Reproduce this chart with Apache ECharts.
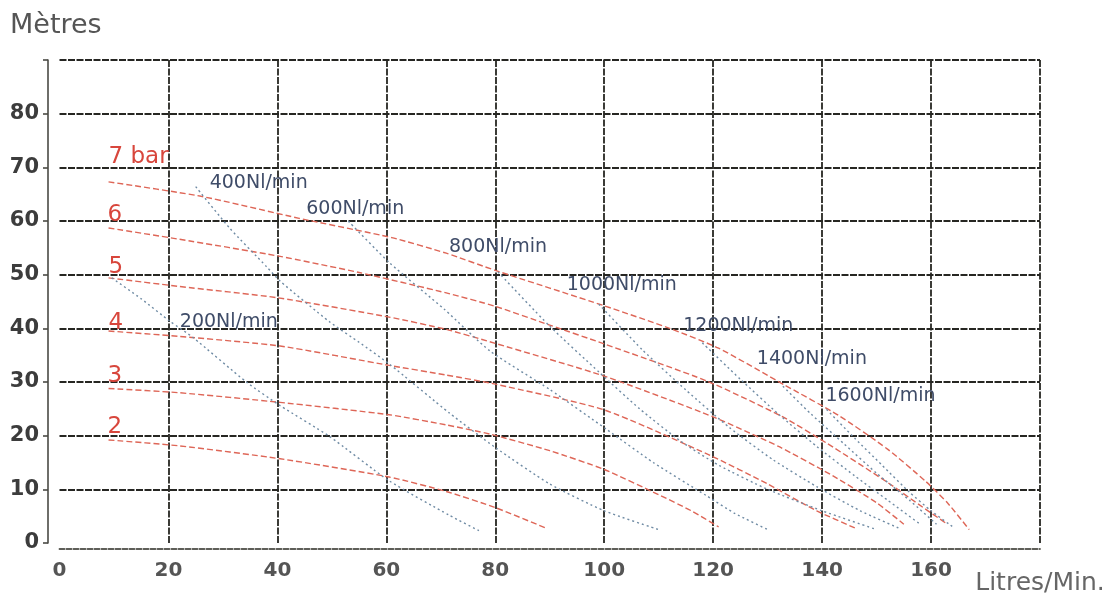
<!DOCTYPE html>
<html>
<head>
<meta charset="utf-8">
<script src="https://cdn.jsdelivr.net/npm/echarts@6/dist/echarts.min.js"></script>
<style>
html,body{margin:0;padding:0;background:#ffffff;}
#chart{width:1118px;height:596px;}
</style>
</head>
<body>
<div id="chart"></div>
<script>
// ---- tick labels ----
const xTickLabels = [0, 20, 40, 60, 80, 100, 120, 140, 160];
const yTickLabels = [0, 10, 20, 30, 40, 50, 60, 70, 80];
const xAxisTitle = 'Litres/Min.';
const yAxisTitle = 'Mètres';

// ---- pressure curves (red), [Litres/min, Metres] ----
const pressureNames = ['7 bar', '6', '5', '4', '3', '2'];
const bar7 = [[9,67.3],[26,64.6],[44,60.5],[61,56.9],[71,54],[80,50.8],[100,44.2],[112,40],[121,36.3],[133,29.5],[143,23.8],[152,17.5],[159,11.5],[163,7.5],[167,2.5]];
const bar6 = [[9,58.7],[22,56.6],[40,53.5],[55,50.4],[71,46.6],[80,44.1],[90,40.6],[100,37.1],[118.8,30.2],[132.8,23.5],[141,18.5],[152,11.3],[158,7],[163,3.5]];
const bar5 = [[9,49.4],[22,47.8],[40,45.7],[60.5,42.1],[71,39.8],[80,37.2],[100,31.1],[120,23.5],[132,18],[142,12.5],[150,7.5],[155,3.5]];
const bar4 = [[9,39.5],[22,38.5],[40.5,36.7],[60.5,33.1],[71,31.3],[80,29.6],[100,24.8],[119.5,16.3],[130,11],[139,6],[146,2.8]];
const bar3 = [[9,28.8],[22,28],[40.5,26.2],[60.5,23.9],[71,22],[79,20.3],[90,17.2],[100,13.7],[110,9],[116,6],[121,3]];
const bar2 = [[9,19.2],[22,18.1],[40.5,15.7],[60.5,12.3],[71,9.6],[80,6.6],[89.5,2.7]];

// ---- air consumption curves (blue) ----
const airNames = ['200Nl/min','400Nl/min','600Nl/min','800Nl/min','1000Nl/min','1200Nl/min','1400Nl/min','1600Nl/min'];
const air200 = [[9.6,49.4],[15,45.5],[20.3,41.3],[24.5,38.3],[34.3,30],[40.5,25.6],[49.5,19.9],[60.5,11.6],[71.5,5.2],[77,2.3]];
const air400 = [[25,66.4],[31.3,58.6],[38,51.5],[40.5,48.8],[49.6,41.2],[55,37.4],[60.6,33.3],[71.6,24.2],[80,17.8],[90,11],[100,6],[110,2.5]];
const air600 = [[53,60],[60.6,52.2],[70.7,43.5],[79,35.8],[90,28.6],[100.4,21.2],[109,15],[118.8,8.8],[124,5.5],[130,2.5]];
const air800 = [[80.5,50.5],[90,40.4],[99.2,31.7],[106.5,25],[114,19],[121,14.5],[130,10],[140,6],[150,2.5]];
const air1000 = [[99,44.5],[107,36],[115,28.5],[123,21.5],[131,15.5],[139,10.5],[147,6],[154,2.8]];
const air1200 = [[118,37.3],[125,30.5],[132,24],[139,18],[146,12.5],[152,8],[158,3.5]];
const air1400 = [[132.8,29.2],[138,24],[144,18.5],[150,13],[156,8],[161,3.5]];
const air1600 = [[140.8,24.9],[146,19.5],[151,14.5],[156,9.5],[160,6],[164,3]];

const pressureData = [bar7, bar6, bar5, bar4, bar3, bar2];
const airData = [air200, air400, air600, air800, air1000, air1200, air1400, air1600];

// ---- styles (label placement relative to each curve's first point) ----
const pressureLabelOffsets = [[0,-11],[-1,1],[0,3],[0,6],[-1,1],[-1,1]];
const airLabelOffsets = [[117,59],[63,11],[7,3],[0,-10],[23,-5],[36,-2],[29,-13],[54,1]];

const FONT = '"DejaVu Sans", Verdana, sans-serif';
const gridLine = {color:'#262622', width:2, type:[7,1.5]};

const series = [];
pressureData.forEach(function(d, k){
  series.push({
    type:'line', name: pressureNames[k], smooth:0.2,
    showSymbol:true, symbol:'circle', symbolSize:0, silent:true,
    lineStyle:{color:'#de6657', width:1.4, type:[6,3]},
    itemStyle:{color:'#de6657'},
    data: d.map(function(p, i){
      if (i !== 0) return p;
      return {value:p, label:{show:true, formatter: pressureNames[k], position:'top', align:'left',
        distance:2, offset: pressureLabelOffsets[k], color:'#d8463c', fontSize:23, fontFamily:FONT}};
    })
  });
});
airData.forEach(function(d, k){
  series.push({
    type:'line', name: airNames[k], smooth:0.2,
    showSymbol:true, symbol:'circle', symbolSize:0, silent:true,
    lineStyle:{color:'#6f8ba4', width:1.4, type:[2,3]},
    itemStyle:{color:'#6f8ba4'},
    data: d.map(function(p, i){
      if (i !== 0) return p;
      return {value:p, label:{show:true, formatter: airNames[k], position:'top',
        distance:5, offset: airLabelOffsets[k], color:'#3f4c68', fontSize:19, fontFamily:FONT}};
    })
  });
});

const chart = echarts.init(document.getElementById('chart'), null, {renderer:'canvas'});
chart.setOption({
  backgroundColor:'#ffffff',
  animation:false,
  title:{text: yAxisTitle, left:5, top:7, textStyle:{fontSize:27, fontWeight:'normal', color:'#555', fontFamily:FONT}},
  grid:{left:59.5, right:78, top:60, bottom:52, containLabel:false},
  xAxis:{
    type:'value', min:0, max:180, interval:20, offset:6,
    axisLine:{show:true, onZero:false, lineStyle:{color:'#5e5e58', width:1.8, type:[5,2]}},
    axisTick:{show:false},
    splitLine:{show:true, showMinLine:false, lineStyle:{color:'#262622', width:1.8, type:[7,1.5]}},
    axisLabel:{
      margin:12, fontSize:20, fontWeight:'bold', color:'#555', fontFamily:FONT,
      formatter:function(v){
        if (v === 180) return '{u|' + xAxisTitle + '}';
        return xTickLabels.indexOf(v) >= 0 ? String(v) : '';
      },
      rich:{u:{fontSize:25, fontWeight:'normal', color:'#666', fontFamily:FONT, padding:[10,0,0,0]}}
    }
  },
  yAxis:{
    type:'value', min:0, max:90, interval:10, offset:11.5,
    axisLine:{show:true, onZero:false, lineStyle:{color:'#4a4a44', width:1.6}},
    axisTick:{show:true, inside:false, length:5, lineStyle:{color:'#4a4a44', width:1.6}},
    splitLine:{show:true, showMinLine:false, lineStyle:gridLine},
    axisLabel:{
      margin:9, fontSize:21, fontWeight:'bold', color:'#3c3c3c', fontFamily:FONT,
      formatter:function(v){ return yTickLabels.indexOf(v) >= 0 ? String(v) : ''; }
    }
  },
  series: series
});
</script>
</body>
</html>
